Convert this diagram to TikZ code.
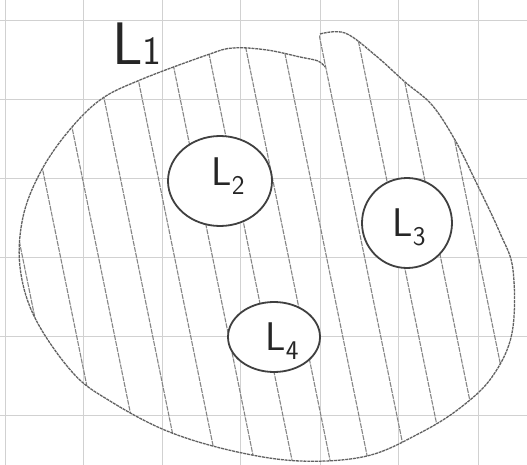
\documentclass[tikz,border=0pt]{standalone}
\usepackage{fontspec}
\usetikzlibrary{shapes.geometric}
\newcommand{\lowsub}[1]{\raisebox{-9pt}{\fontsize{27}{27}\selectfont #1}}
\tikzset{
  gridline/.style={draw=black!18, line width=0.9pt},
  outline/.style={draw=black!62, line width=1.3pt, dash pattern=on 3pt off 0.8pt},
  hatchline/.style={draw=black!48, line width=1.1pt, dash pattern=on 5pt off 1pt},
  hole/.style={ellipse, draw=black!75, line width=1.8pt, fill=white, inner sep=0pt,
    font=\sffamily\fontsize{40}{40}\selectfont, text=black!85},
  biglabel/.style={font=\sffamily, text=black!85, inner sep=0pt}
}
\begin{document}
\begin{tikzpicture}[x=1pt,y=-1pt]
\useasboundingbox (0,0) rectangle (527,465);
\fill[white] (0,0) rectangle (527,465);
% graph paper
\foreach \x in {5,83,162,240,320,398,478}
  \draw[gridline] (\x,0) -- (\x,465);
\foreach \y in {20,99,178,257,336,415}
  \draw[gridline] (0,\y) -- (527,\y);
% hatching inside the region
\begin{scope}
  \clip plot[smooth cycle, tension=0.6] coordinates {(320,34) (345,33) (375,55) (405,82) (432,105) (455,140) (475,180) (500,233) (513,270) (512,333) (492,377) (460,408) (420,433) (367,456) (300,461) (233,451) (167,431) (110,401) (73,373) (35,318) (20,267) (23,217) (40,173) (67,133) (100,100) (140,80) (207,55) (233,48) (267,50) (300,57) (322,62)};
  \foreach \x in {-30,8,46,84,122,160,198,236,274,312,350,388,426,464}
    \draw[hatchline] (\x,0) -- (\x+95,465);
\end{scope}
% outline of L1 (open stroke, as drawn by hand)
\draw[outline] plot[smooth, tension=0.6] coordinates {(320,34) (345,33) (375,55) (405,82) (432,105) (455,140) (475,180) (500,233) (513,270) (512,333) (492,377) (460,408) (420,433) (367,456) (300,461) (233,451) (167,431) (110,401) (73,373) (35,318) (20,267) (23,217) (40,173) (67,133) (100,100) (140,80) (207,55) (233,48) (267,50) (300,57) (318,61) (325,67)};
% label of the big region
\node[biglabel, anchor=south west] (L1) at (112,65) {\fontsize{60}{60}\selectfont L\fontsize{40}{40}\selectfont 1};
% the three holes
\node[hole, minimum width=104pt, minimum height=90pt] (L2) at (220,181) {};
\node[hole, minimum width=90pt, minimum height=90pt] (L3) at (407,223) {};
\node[hole, minimum width=92pt, minimum height=70pt] (L4) at (274,337) {};
\node[font=\sffamily\fontsize{40}{40}\selectfont, text=black!85, inner sep=0pt] (t2) at (228,176) {L\lowsub{2}};
\node[font=\sffamily\fontsize{40}{40}\selectfont, text=black!85, inner sep=0pt] (t3) at (409,227) {L\lowsub{3}};
\node[font=\sffamily\fontsize{40}{40}\selectfont, text=black!85, inner sep=0pt] (t4) at (282,341) {L\lowsub{4}};
\end{tikzpicture}
\end{document}
